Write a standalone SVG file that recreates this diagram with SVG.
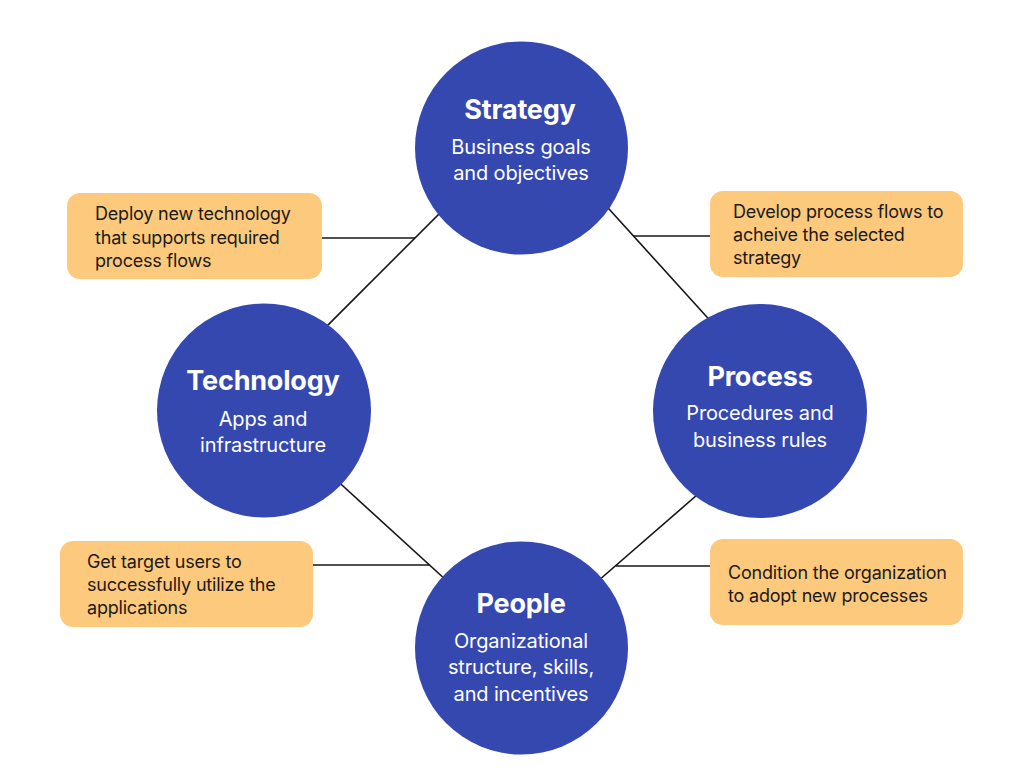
<svg xmlns="http://www.w3.org/2000/svg" width="1024" height="776" viewBox="0 0 1024 776">
<style>
.circle{fill:#3548B0}
.box{fill:#FDC97D}
.title{font-family:Inter,"Noto Sans",sans-serif;font-weight:700;font-size:27px;fill:#fff;text-anchor:middle;letter-spacing:-0.2px}
.sub{font-family:Inter,"Noto Sans",sans-serif;font-weight:400;font-size:20px;fill:#fff;text-anchor:middle;letter-spacing:-0.15px}
.note{font-family:Inter,"Noto Sans",sans-serif;font-weight:400;font-size:18px;fill:#1a1a1a;letter-spacing:-0.2px}
.conn{stroke:#161616;stroke-width:1.6;fill:none}
</style>
<rect width="1024" height="776" fill="#fff"/>
<g id="connectors">
<line class="conn" x1="505" y1="148" x2="242" y2="411"/>
<line class="conn" x1="590" y1="188" x2="725" y2="337"/>
<line class="conn" x1="320" y1="465" x2="470" y2="602"/>
<line class="conn" x1="720" y1="475" x2="575" y2="601"/>
<line class="conn" x1="321" y1="238" x2="415" y2="238"/>
<line class="conn" x1="633" y1="236" x2="711" y2="236"/>
<line class="conn" x1="312" y1="565" x2="430" y2="565"/>
<line class="conn" x1="616" y1="566" x2="711" y2="566"/>
</g>
<g id="strategy">
<circle class="circle" cx="521.5" cy="148" r="106.5"/>
<text class="title" x="520" y="119">Strategy</text>
<text class="sub" x="521" y="154">Business goals</text>
<text class="sub" x="521" y="180">and objectives</text>
</g>
<g id="technology">
<circle class="circle" cx="264" cy="410.5" r="107"/>
<text class="title" x="263" y="390">Technology</text>
<text class="sub" x="263" y="426">Apps and</text>
<text class="sub" x="263" y="452">infrastructure</text>
</g>
<g id="process">
<circle class="circle" cx="760" cy="411" r="107"/>
<text class="title" x="760" y="386">Process</text>
<text class="sub" x="760" y="420">Procedures and</text>
<text class="sub" x="760" y="447">business rules</text>
</g>
<g id="people">
<circle class="circle" cx="521.5" cy="648" r="106.5"/>
<text class="title" x="521" y="613">People</text>
<text class="sub" x="521" y="648">Organizational</text>
<text class="sub" x="521" y="674">structure, skills,</text>
<text class="sub" x="521" y="701">and incentives</text>
</g>
<g id="note-technology">
<rect class="box" x="67" y="193" width="255" height="86" rx="13"/>
<text class="note" x="95" y="220">Deploy new technology</text>
<text class="note" x="95" y="244">that supports required</text>
<text class="note" x="95" y="267">process flows</text>
</g>
<g id="note-process">
<rect class="box" x="710" y="191" width="253" height="86" rx="13"/>
<text class="note" x="733" y="218">Develop process flows to</text>
<text class="note" x="733" y="241">acheive the selected</text>
<text class="note" x="733" y="264">strategy</text>
</g>
<g id="note-people-left">
<rect class="box" x="60" y="541" width="253" height="86" rx="13"/>
<text class="note" x="87" y="568">Get target users to</text>
<text class="note" x="87" y="591">successfully utilize the</text>
<text class="note" x="87" y="614">applications</text>
</g>
<g id="note-people-right">
<rect class="box" x="710" y="539" width="253" height="86" rx="13"/>
<text class="note" x="728" y="579">Condition the organization</text>
<text class="note" x="728" y="602">to adopt new processes</text>
</g>
</svg>
